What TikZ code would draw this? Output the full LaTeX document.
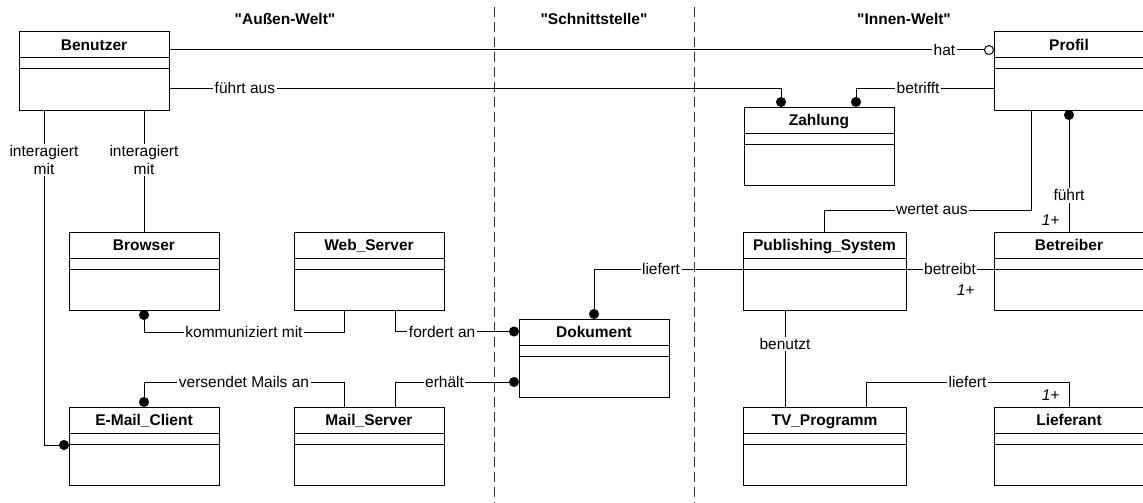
\documentclass[tikz,border=0pt]{standalone}
\usepackage{fontspec}
\setmainfont{Liberation Sans}
\usetikzlibrary{arrows.meta,shapes.multipart}

\newcommand{\grundschrift}{\fontsize{15.5pt}{18pt}\selectfont}
\tikzset{
  klasse/.style={rectangle split, rectangle split parts=3, draw, inner xsep=4pt, inner ysep=0pt,
    outer sep=0pt, minimum width=150pt, anchor=north west},
  lbl/.style={fill=white, inner sep=1.5pt},
  mult/.style={font=\grundschrift\itshape, inner sep=1pt},
  titel/.style={font=\grundschrift\bfseries},
  grenze/.style={dash pattern=on 10pt off 5pt, black!80},
  punkt/.tip={Circle[length=10pt]},
  ring/.tip={Circle[open,length=10pt]}
}
\newcommand{\klassenbox}[1]{\rule[-7pt]{0pt}{25pt}\textbf{#1}\nodepart{second}\rule{0pt}{10pt}\nodepart{third}\rule{0pt}{40pt}}

\begin{document}
\begin{tikzpicture}[x=1pt, y=-1pt, line width=1pt, font=\grundschrift]
            \useasboundingbox (0,0) rectangle (1143,503);

            % Bereiche
            \draw[grenze] (494,7) -- (494,503);
            \draw[grenze] (694,7) -- (694,503);
            \node[titel] (aussen) at (285,19) {\textquotedbl Außen-Welt\textquotedbl};
            \node[titel] (schnitt) at (594,19) {\textquotedbl Schnittstelle\textquotedbl};
            \node[titel] (innen) at (904,19) {\textquotedbl Innen-Welt\textquotedbl};

            % Klassen
            \node[klasse] (benutzer) at (19,32) {\klassenbox{Benutzer}};
            \node[klasse] (browser) at (69,232) {\klassenbox{Browser}};
            \node[klasse] (webserver) at (294,232) {\klassenbox{Web\_Server}};
            \node[klasse] (email) at (69,407) {\klassenbox{E-Mail\_Client}};
            \node[klasse] (mailserver) at (294,407) {\klassenbox{Mail\_Server}};
            \node[klasse] (dokument) at (519,319) {\klassenbox{Dokument}};
            \node[klasse] (zahlung) at (744,107) {\klassenbox{Zahlung}};
            \node[klasse] (profil) at (994,32) {\klassenbox{Profil}};
            \node[klasse, minimum width=163pt] (publishing) at (743,232) {\klassenbox{Publishing\_System}};
            \node[klasse] (betreiber) at (994,232) {\klassenbox{Betreiber}};
            \node[klasse, minimum width=163pt] (tvprogramm) at (743,407) {\klassenbox{TV\_Programm}};
            \node[klasse] (lieferant) at (994,407) {\klassenbox{Lieferant}};

            % Beziehungen
            \draw[-ring] ([yshift=-18pt]benutzer.north east) -- node[lbl,pos=0.94] (l-hat) {hat} ([yshift=-18pt]profil.north west);
            \draw[-punkt] ([yshift=-56pt]benutzer.north east) -| node[lbl,pos=0.062] (l-fuehrtaus) {führt aus} ([xshift=37pt]zahlung.north west);
            \draw[-punkt] ([yshift=-56pt]profil.north west) -| node[lbl,pos=0.275] (l-betrifft) {betrifft} ([xshift=112pt]zahlung.north west);
            \draw[-punkt] ([xshift=25pt]benutzer.south west) |- node[lbl,align=center,pos=0.075] (l-interagiert1) {interagiert\\mit} ([yshift=-38pt]email.north west);
            \draw (browser.north |- benutzer.south) -- node[lbl,align=center,pos=0.41] (l-interagiert2) {interagiert\\mit} (browser.north);
            \draw[punkt-] (browser.south) -- ++(0,22) -| node[lbl,pos=0.25] (l-kommuniziert) {kommuniziert mit} ([xshift=50pt]webserver.south west);
            \draw[punkt-] (email.north) -- ++(0,-25) -| node[lbl,pos=0.25] (l-versendet) {versendet Mails an} ([xshift=50pt]mailserver.north west);
            \draw[-punkt] ([xshift=101pt]webserver.south west) |- node[lbl,pos=0.69] (l-fordert) {fordert an} ([yshift=-12.5pt]dokument.north west);
            \draw[-punkt] ([xshift=101pt]mailserver.north west) |- node[lbl,pos=0.70] (l-erhaelt) {erhält} ([yshift=-63pt]dokument.north west);
            \draw[-punkt] ([yshift=-37pt]publishing.north west) -| node[lbl,pos=0.275] (l-liefert1) {liefert} ([xshift=75pt]dokument.north west);
            \draw ([xshift=37pt]profil.south west) -- ++(0,100) -| node[lbl,pos=0.24] (l-wertet) {wertet aus} (publishing.north);
            \draw[punkt-] (profil.south) -- node[lbl,pos=0.70] (l-fuehrt) {führt} (betreiber.north);
            \node[mult, anchor=base east] (m-fuehrt) at ([shift={(-8pt,7pt)}]betreiber.north) {1+};
            \draw ([yshift=-37pt]publishing.north east) -- node[lbl] (l-betreibt) {betreibt} ([yshift=-37pt]betreiber.north west);
            \node[mult, anchor=base east] (m-betreibt) at ([shift={(-18pt,-63pt)}]betreiber.north west) {1+};
            \draw ([xshift=42pt]publishing.south west) -- node[lbl,pos=0.35] (l-benutzt) {benutzt} ([xshift=42pt]tvprogramm.north west);
            \draw ([xshift=123pt]tvprogramm.north west) -- ++(0,-25) -| node[lbl,pos=0.25] (l-liefert2) {liefert} (lieferant.north);
            \node[mult, anchor=base east] (m-liefert) at ([shift={(-8pt,7pt)}]lieferant.north) {1+};
\end{tikzpicture}
\end{document}
